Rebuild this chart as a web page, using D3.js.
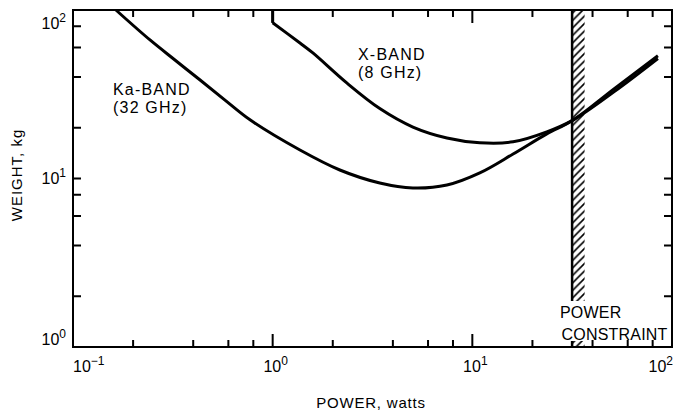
<!DOCTYPE html>
<html>
<head>
<meta charset="utf-8">
<script src="https://d3js.org/d3.v7.min.js"></script>
<style>
  body { margin: 0; background: #fff; }
  text { font-family: "Liberation Sans", Arial, sans-serif; fill: #000; }
  .curve { fill: none; stroke: #000; stroke-width: 3px; stroke-linejoin: round; }
</style>
</head>
<body>
<div id="chart"></div>
<script>

// values: power in watts, weight in kg
var kaPower  = [0.164, 0.243, 0.324, 0.433, 0.577, 0.77, 1.37,  2.17,  3.44, 5.04, 7.46, 10.9, 16.0, 23.6, 31.9, 51.8, 85];
var kaWeight = [100,   66.4,  50.5,  38.4,  29.2,  22.3, 14.76, 11.23, 9.4,  8.78, 9.15, 10.8, 13.97, 18.4, 22.2, 34.4, 53.5];

var xbPower  = [1.0, 1.0, 1.37, 1.59, 2.35, 3.44, 5.04, 7.46, 10.9, 16.0, 23.6, 31.9, 51.8, 85];
var xbWeight = [100, 84,  63.7, 55.6, 36.9, 26.0, 20.2, 17.4, 16.3, 16.5, 18.9, 22.2, 33.0, 51.5];

var constraint = [31.6, 36.5];   // watts

var xDecades = [0.1, 1, 10, 100];
var xExponents = ["\u22121", "0", "1", "2"];
var yDecades = [1, 10, 100];
var yExponents = ["0", "1", "2"];
var minorSteps = [2, 4, 6, 8];

var margin = {top: 10, right: 4, bottom: 69, left: 73},
    width = 676 - margin.left - margin.right,
    height = 416 - margin.top - margin.bottom;

var svg = d3.select("#chart")
  .append("svg")
    .attr("width", width + margin.left + margin.right)
    .attr("height", height + margin.top + margin.bottom)
  .append("g")
    .attr("transform", "translate(" + margin.left + "," + margin.top + ")");

var x = d3.scaleLog().domain([0.1, 100]).range([0, width]);
var y = d3.scaleLog().domain([1, 100]).range([height, 0]);

var xMinor = [], yMinor = [];
xDecades.slice(0, -1).forEach(function(d) { minorSteps.forEach(function(s) { xMinor.push(d * s); }); });
yDecades.slice(0, -1).forEach(function(d) { minorSteps.forEach(function(s) { yMinor.push(d * s); }); });

// hatched power constraint band
var defs = svg.append("defs");
defs.append("pattern")
    .attr("id", "hatch")
    .attr("patternUnits", "userSpaceOnUse")
    .attr("width", 7.5)
    .attr("height", 7.5)
  .append("path")
    .attr("d", "M-1,1 l2,-2 M0,7.5 l7.5,-7.5 M6.5,8.5 l2,-2")
    .attr("stroke", "#000")
    .attr("stroke-width", 1.6);

svg.append("rect")
    .attr("x", x(constraint[0]))
    .attr("y", 0)
    .attr("width", x(constraint[1]) - x(constraint[0]))
    .attr("height", height)
    .attr("fill", "url(#hatch)");

svg.append("line")
    .attr("x1", x(constraint[0])).attr("x2", x(constraint[0]))
    .attr("y1", 0).attr("y2", height)
    .attr("stroke", "#000")
    .attr("stroke-width", 2.5);

// label for the band, on a white patch
var pc = svg.append("g");
var pcBg = pc.append("rect").attr("fill", "#fff");
var pcText = pc.append("text")
    .attr("font-size", 16)
    .attr("letter-spacing", 0.2);
pcText.append("tspan").attr("x", 487).attr("y", 308).text("POWER");
pcText.append("tspan").attr("x", 488.5).attr("y", 330).text("CONSTRAINT");
var bb = pcText.node().getBBox();
pcBg.attr("x", bb.x - 1).attr("y", bb.y - 3).attr("width", bb.width + 2).attr("height", bb.height + 1);

// curves
var line = d3.line()
    .x(function(d) { return x(d[0]); })
    .y(function(d) { return y(d[1]); })
    .curve(d3.curveCatmullRom.alpha(0.5));

var kaData = kaPower.map(function(p, i) { return [p, kaWeight[i]]; });
var xbData = xbPower.map(function(p, i) { return [p, xbWeight[i]]; });

svg.append("path").attr("class", "curve").attr("d", line(kaData));
svg.append("path").attr("class", "curve")
    .attr("d", d3.line().x(function(d) { return x(d[0]); }).y(function(d) { return y(d[1]); })(xbData.slice(0, 2)));
svg.append("path").attr("class", "curve").attr("d", line(xbData.slice(1)));

// curve labels
var ka = svg.append("text").attr("font-size", 16).attr("letter-spacing", 1.2);
ka.append("tspan").attr("x", 40).attr("y", 85).text("Ka-BAND");
ka.append("tspan").attr("x", 40).attr("y", 103).text("(32 GHz)");

var xb = svg.append("text").attr("font-size", 16).attr("letter-spacing", 1.2);
xb.append("tspan").attr("x", 285).attr("y", 50).text("X-BAND");
xb.append("tspan").attr("x", 285).attr("y", 68).text("(8 GHz)");

// ticks pointing inward on all four sides, one path per side
function tickPath(vals, len, pos, vertical, dir) {
  return vals.map(function(d) {
    var p = vertical ? x(d) : y(d);
    return vertical
      ? "M" + p + "," + pos + "V" + (pos + dir * len)
      : "M" + pos + "," + p + "H" + (pos + dir * len);
  }).join("");
}
var ticks = svg.append("g")
    .attr("fill", "none")
    .attr("stroke", "#000")
    .attr("stroke-width", 2);
ticks.append("path").attr("d", tickPath(xMinor, 7, height, true, -1));
ticks.append("path").attr("d", tickPath(xDecades, 13, height, true, -1));
ticks.append("path").attr("d", tickPath(xMinor, 7, 0, true, 1));
ticks.append("path").attr("d", tickPath(xDecades, 13, 0, true, 1));
ticks.append("path").attr("d", tickPath(yMinor.concat(yDecades), 8, 0, false, 1));
ticks.append("path").attr("d", tickPath(yMinor.concat(yDecades), 8, width, false, -1));

svg.append("rect")
    .attr("width", width)
    .attr("height", height)
    .attr("fill", "none")
    .attr("stroke", "#000")
    .attr("stroke-width", 2);

// tick labels with superscript exponents
xDecades.forEach(function(d, i) {
  var anchor = i === 0 ? "start" : (i === xDecades.length - 1 ? "end" : "middle");
  var t = svg.append("text")
      .attr("x", i === 0 ? x(d) : (i === xDecades.length - 1 ? x(d) + 1 : x(d) + 3))
      .attr("y", height + 25)
      .attr("text-anchor", anchor)
      .attr("font-size", 16);
  t.append("tspan").text("10");
  t.append("tspan").attr("dy", -7).attr("font-size", 12).text(xExponents[i]);
});

yDecades.forEach(function(d, i) {
  var yy = Math.max(19, Math.min(height - 2, y(d) + 5));
  var t = svg.append("text")
      .attr("x", -7)
      .attr("y", yy)
      .attr("text-anchor", "end")
      .attr("font-size", 16);
  t.append("tspan").text("10");
  t.append("tspan").attr("dy", -7).attr("font-size", 12).text(yExponents[i]);
});

// axis titles
svg.append("text")
    .attr("x", 298)
    .attr("y", height + 61)
    .attr("text-anchor", "middle")
    .attr("font-size", 15)
    .attr("letter-spacing", 0.8)
    .text("POWER, watts");

svg.append("text")
    .attr("transform", "translate(" + (-51) + "," + 165 + ") rotate(-90)")
    .attr("text-anchor", "middle")
    .attr("font-size", 15)
    .attr("letter-spacing", 1)
    .text("WEIGHT, kg");

</script>
</body>
</html>
